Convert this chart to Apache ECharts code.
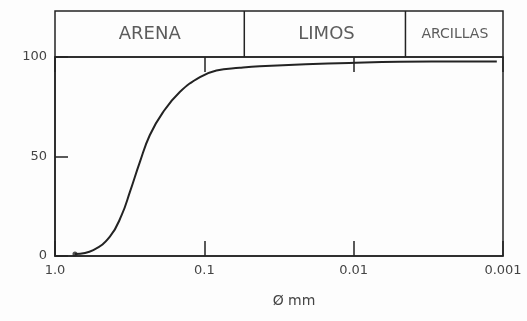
<!DOCTYPE html>
<html><head><meta charset="utf-8">
<script src="https://cdn.jsdelivr.net/npm/echarts@6/dist/echarts.min.js"></script>
<style>html,body{margin:0;padding:0;background:#fdfdfd}#c{width:527px;height:321px}</style>
</head><body><div id="c"></div>
<script>
// Grain size (mm) and cumulative % passing
const diameters = [0.735, 0.554, 0.429, 0.358, 0.315, 0.27, 0.232, 0.189, 0.146, 0.107, 0.083, 0.058, 0.0426, 0.0107, 0.003, 0.0011];
const percents  = [1,     3,     9.7,   20.5,  32.2,  47.3, 60.7,  72.3,  82.4,  89.9,  93.2,  94.6,  95.4,   97.0,   97.7,  97.7];
const xTicks = [1, 0.1, 0.01, 0.001];
const xTickLabels = ['1.0', '0.1', '0.01', '0.001'];
const yTicks = [0, 50, 100];
const zoneNames = ['ARENA', 'LIMOS', 'ARCILLAS'];
const zoneCenters = [0.232, 0.0152, 0.0021];
const zoneBounds = [0.054, 0.0045];

const ink = '#232323';
const chart = echarts.init(document.getElementById('c'));
const labelFor = v => { const i = xTicks.findIndex(t => Math.abs(Math.log10(t) - Math.log10(v)) < 1e-6); return i >= 0 ? xTickLabels[i] : ''; };
const boundarySeries = zoneBounds.map(b => ({
  type: 'line', xAxisIndex: 2, yAxisIndex: 1, data: [[b, 0], [b, 1]], symbol: 'none',
  lineStyle: {color: ink, width: 1.5}, silent: true
}));
chart.setOption({
  backgroundColor: '#fdfdfd',
  animation: false,
  grid: [
    {left: 55, right: 24, top: 57, bottom: 65, show: true, borderColor: ink, borderWidth: 1.5},
    {left: 55, right: 24, top: 11, height: 46, show: true, borderColor: ink, borderWidth: 1.5}
  ],
  xAxis: [
    {type: 'log', logBase: 10, min: 0.001, max: 1, inverse: true, gridIndex: 0,
     axisLine: {lineStyle: {color: ink, width: 1.5}},
     axisTick: {inside: true, length: 15, lineStyle: {color: ink, width: 1.5}},
     minorTick: {show: false}, splitLine: {show: false},
     axisLabel: {color: '#444', fontSize: 13, fontFamily: 'DejaVu Sans', margin: 8, formatter: labelFor},
     name: 'Ø mm', nameLocation: 'middle', nameGap: 38,
     nameTextStyle: {color: '#444', fontSize: 14, fontFamily: 'DejaVu Sans', padding: [0, 0, 0, 30]}},
    {type: 'log', logBase: 10, min: 0.001, max: 1, inverse: true, gridIndex: 0, position: 'top',
     axisLine: {show: false},
     axisTick: {inside: true, length: 15, lineStyle: {color: ink, width: 1.5}},
     axisLabel: {show: false}, splitLine: {show: false}},
    {type: 'log', logBase: 10, min: 0.001, max: 1, inverse: true, gridIndex: 1,
     axisLine: {show: false}, axisTick: {show: false}, axisLabel: {show: false}, splitLine: {show: false}}
  ],
  yAxis: [
    {type: 'value', min: 0, max: 100, interval: 50, gridIndex: 0,
     axisLine: {show: true, lineStyle: {color: ink, width: 1.5}},
     axisTick: {show: true, inside: true, length: 13, lineStyle: {color: ink, width: 1.5}},
     splitLine: {show: false},
     axisLabel: {color: '#444', fontSize: 13, fontFamily: 'DejaVu Sans', margin: 8}},
    {type: 'value', min: 0, max: 1, gridIndex: 1, show: false}
  ],
  series: [
    {type: 'line', xAxisIndex: 0, yAxisIndex: 0, data: diameters.map((d, i) => [d, percents[i]]),
     smooth: 0.45, symbol: 'none', lineStyle: {color: ink, width: 2}},
    {type: 'scatter', xAxisIndex: 0, yAxisIndex: 0, data: [[diameters[0], percents[0]]],
     symbolSize: 5, itemStyle: {color: ink}, silent: true},
    {type: 'scatter', xAxisIndex: 2, yAxisIndex: 1, symbolSize: 0,
     data: zoneCenters.map((c, i) => ({value: [c, 0.5], label: {show: true, formatter: zoneNames[i], position: 'inside',
       color: '#333', fontSize: i === 2 ? 14 : 18, fontFamily: 'DejaVu Sans'}}))},
    ...boundarySeries
  ]
});
</script></body></html>
